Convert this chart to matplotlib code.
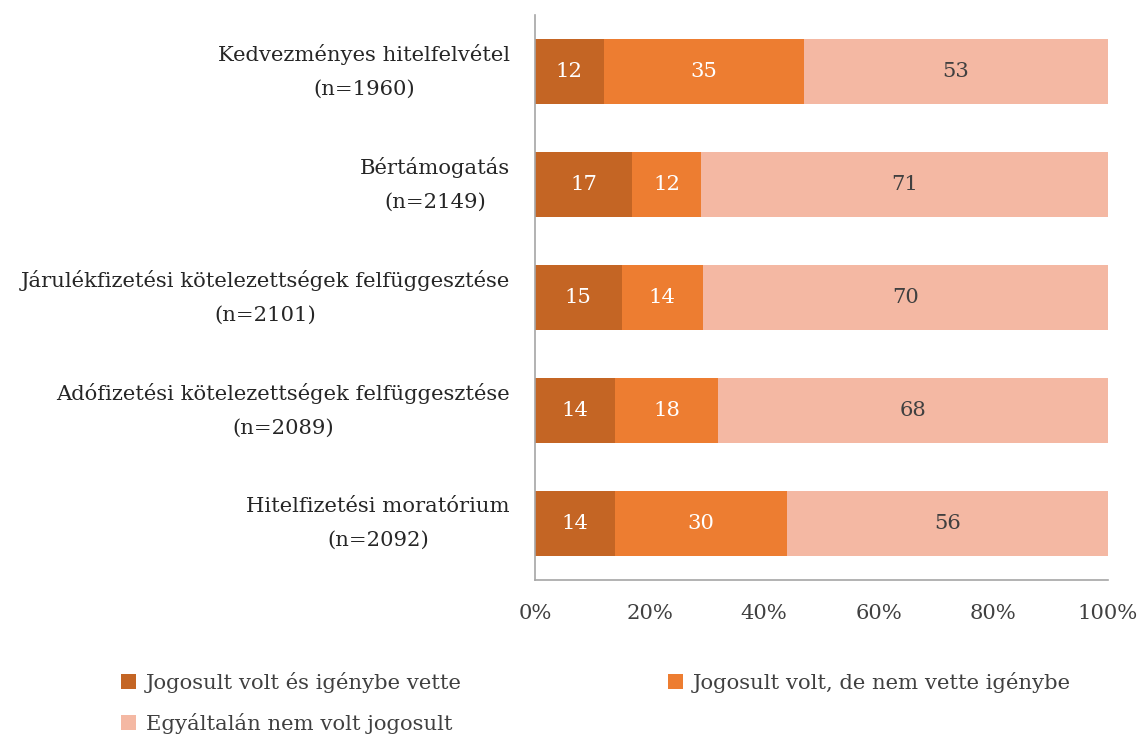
import matplotlib.pyplot as plt
import numpy as np

plt.rcParams['font.family'] = ['DejaVu Serif']

CATEGORIES = ['Kedvezményes hitelfelvétel\n(n=1960)',
              'Bértámogatás\n(n=2149)',
              'Járulékfizetési kötelezettségek felfüggesztése\n(n=2101)',
              'Adófizetési kötelezettségek felfüggesztése\n(n=2089)',
              'Hitelfizetési moratórium\n(n=2092)']
USED = [12, 17, 15, 14, 14]
NOT_USED = [35, 12, 14, 18, 30]
NOT_ELIGIBLE = [53, 71, 70, 68, 56]
SERIES_NAMES = ['Jogosult volt és igénybe vette',
                'Jogosult volt, de nem vette igénybe',
                'Egyáltalán nem volt jogosult']

COLORS = ['#C46524', '#ED7D31', '#F4B8A3']
TEXT_COLORS = ['white', 'white', '#404040']
FS = 15.2

fig = plt.figure(figsize=(11.37, 7.35), dpi=100)
ax = fig.add_axes([0.4705, 0.2109, 0.504, 0.7687])

vals = np.array([USED, NOT_USED, NOT_ELIGIBLE], dtype=float)
shares = vals / vals.sum(axis=0) * 100  # 100% stacked
y = np.arange(len(CATEGORIES))
left = np.zeros(len(CATEGORIES))
for i in range(3):
    ax.barh(y, shares[i], left=left, height=0.575, color=COLORS[i], label=SERIES_NAMES[i])
    for j in range(len(CATEGORIES)):
        ax.text(left[j] + shares[i][j] / 2, y[j], '%d' % vals[i][j], ha='center', va='center',
                color=TEXT_COLORS[i], fontsize=FS)
    left += shares[i]

ax.set_xlim(0, 100)
ax.set_ylim(4.5, -0.5)
ax.set_yticks(y)
ax.set_yticklabels(CATEGORIES, fontsize=FS, color='#262626', linespacing=2.0)
for t in ax.get_yticklabels():
    t.set_multialignment('center')
    t.set_verticalalignment('center')
ax.set_xticks(np.arange(0, 101, 20))
ax.set_xticklabels(['%d%%' % v for v in range(0, 101, 20)], fontsize=FS, color='#404040')
ax.tick_params(axis='y', length=0, pad=18)
ax.tick_params(axis='x', length=0, pad=17)
for s in ['top', 'right']:
    ax.spines[s].set_visible(False)
for s in ['left', 'bottom']:
    ax.spines[s].set_color('#A6A6A6')
    ax.spines[s].set_linewidth(1.2)

handles, labels = ax.get_legend_handles_labels()
order = [0, 2, 1]
fig.legend([handles[k] for k in order], [labels[k] for k in order], ncol=2,
           loc='upper left', bbox_to_anchor=(0.09, 0.112), frameon=False,
           fontsize=FS, handlelength=0.7, handleheight=0.7, handletextpad=0.45,
           columnspacing=9.8, labelspacing=0.95, labelcolor='#404040')

fig.savefig('out.png', dpi=100)
